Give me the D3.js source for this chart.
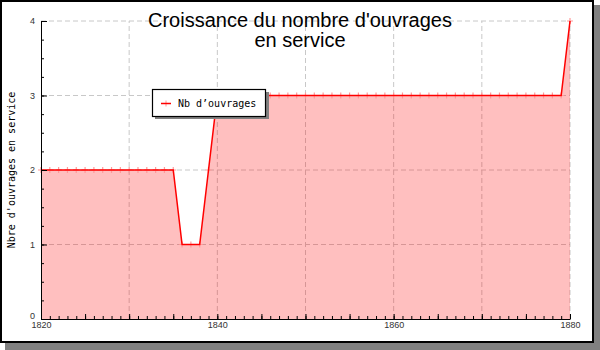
<!DOCTYPE html>
<html>
<head>
<meta charset="utf-8">
<script src="https://cdn.jsdelivr.net/npm/d3@7"></script>
<style>
  body { margin: 0; background: #fff; }
  .tick text { font-family: "Liberation Sans", sans-serif; font-size: 9px; fill: #333; }
  .mono { font-family: "DejaVu Sans Mono", monospace; font-size: 10px; }
</style>
</head>
<body>
<svg id="chart" width="600" height="350"></svg>
<script>
// one value per year, starting at 1820
var firstYear = 1820;
var counts = [
  2, 2, 2, 2, 2, 2, 2, 2, 2, 2,   // 1820-1829
  2, 2, 2, 2, 2, 2, 1, 1, 1, 2,   // 1830-1839
  3, 3, 3, 3, 3, 3, 3, 3, 3, 3,   // 1840-1849
  3, 3, 3, 3, 3, 3, 3, 3, 3, 3,   // 1850-1859
  3, 3, 3, 3, 3, 3, 3, 3, 3, 3,   // 1860-1869
  3, 3, 3, 3, 3, 3, 3, 3, 3, 3,   // 1870-1879
  4                                // 1880
];
var xLabelYears = [1820, 1840, 1860, 1880];
var yTicks = [0, 1, 2, 3, 4];
var titleLines = ["Croissance du nombre d'ouvrages", "en service"];
var yTitle = "Nbre d'ouvrages en service";
var seriesName = "Nb d\u2019ouvrages";

var points = counts.map(function (v, i) { return { year: firstYear + i, value: v }; });

var svg = d3.select("#chart");

// frame with drop shadow
svg.append("rect").attr("x", 5).attr("y", 5).attr("width", 595).attr("height", 345).style("fill", "#808080");
svg.append("rect").attr("x", 1).attr("y", 1).attr("width", 592).attr("height", 341)
    .style("fill", "#fff").style("stroke", "#000").style("stroke-width", 2);

var x = d3.scaleLinear().domain([1820, 1880]).range([41, 570]);
var y = d3.scaleLinear().domain([0, 4]).range([319, 21]);

// grid
var grid = svg.append("g").style("stroke", "#c8c8c8").style("stroke-dasharray", "5,3");
d3.range(1830, 1881, 10).forEach(function (yr) {
    grid.append("line").attr("x1", x(yr)).attr("x2", x(yr)).attr("y1", y(0)).attr("y2", y(4));
});
[1, 2, 3, 4].forEach(function (v) {
    grid.append("line").attr("x1", x(1820)).attr("x2", x(1880)).attr("y1", y(v)).attr("y2", y(v));
});

// area
svg.append("path")
    .datum(points)
    .attr("d", d3.area().x(function (d) { return x(d.year); }).y0(y(0)).y1(function (d) { return y(d.value); }))
    .style("fill", "red").style("fill-opacity", 0.25);

// markers
svg.append("g").selectAll("path")
    .data(points)
    .join("path")
    .attr("transform", function (d) { return "translate(" + x(d.year) + "," + y(d.value) + ")"; })
    .attr("d", "M-3,0H3M0,-3V3")
    .style("stroke", "#ff9a9a").style("stroke-width", 1.2);

// line
svg.append("path")
    .datum(points)
    .attr("d", d3.line().x(function (d) { return x(d.year); }).y(function (d) { return y(d.value); }))
    .style("fill", "none").style("stroke", "red").style("stroke-width", 1.5);

// y axis
svg.append("g")
    .attr("transform", "translate(" + x(1820) + ",0)")
    .call(d3.axisLeft(y).tickValues(d3.range(0, 4.01, 0.25)).tickSizeInner(-3).tickSizeOuter(0).tickFormat(""))
    .call(function (g) { g.select(".domain").remove(); });
var yAxis = svg.append("g")
    .attr("transform", "translate(" + x(1820) + ",0)")
    .call(d3.axisLeft(y).tickValues(yTicks).tickSizeInner(-6).tickSizeOuter(0).tickPadding(6).tickFormat(d3.format("d")));
yAxis.selectAll(".tick text").filter(function (d) { return d === 0; }).attr("dy", "-0.1em");

// x axis
svg.append("g")
    .attr("transform", "translate(0," + y(0) + ")")
    .call(d3.axisBottom(x).tickValues(d3.range(1820, 1881, 1)).tickSizeInner(-3).tickSizeOuter(0).tickFormat(""))
    .call(function (g) { g.select(".domain").remove(); });
svg.append("g")
    .attr("transform", "translate(0," + y(0) + ")")
    .call(d3.axisBottom(x).tickValues(d3.range(1820, 1881, 5)).tickSizeInner(-5).tickSizeOuter(0).tickPadding(3)
        .tickFormat(function (d) { return xLabelYears.indexOf(d) >= 0 ? d : ""; }));

svg.selectAll(".domain").style("stroke", "#000");
svg.selectAll(".tick line").style("stroke", "#000");

// title
svg.append("text")
    .attr("x", 300).attr("y", 27)
    .attr("text-anchor", "middle")
    .style("font-family", "Liberation Sans, sans-serif").style("font-size", "20px")
    .selectAll("tspan")
    .data(titleLines)
    .join("tspan")
    .attr("x", 300)
    .attr("dy", function (d, i) { return i ? 20 : 0; })
    .text(function (d) { return d; });

// y title
svg.append("text")
    .attr("class", "mono")
    .attr("transform", "translate(15," + ((y(0) + y(4)) / 2) + ") rotate(-90)")
    .attr("text-anchor", "middle")
    .text(yTitle);

// legend
var legend = svg.append("g");
legend.append("rect").attr("x", 155).attr("y", 92).attr("width", 114).attr("height", 27).style("fill", "#808080");
legend.append("rect").attr("x", 152.5).attr("y", 89.5).attr("width", 113).attr("height", 27)
    .style("fill", "#fff").style("stroke", "#000").style("stroke-width", 1.2);
legend.append("path").attr("d", "M163,103.5h6M166,100.5v6").style("stroke", "#ff9a9a");
legend.append("line").attr("x1", 161).attr("x2", 171).attr("y1", 103.5).attr("y2", 103.5)
    .style("stroke", "red").style("stroke-width", 1.5);
legend.append("text").attr("class", "mono").attr("x", 178).attr("y", 107).text(seriesName);
</script>
</body>
</html>
